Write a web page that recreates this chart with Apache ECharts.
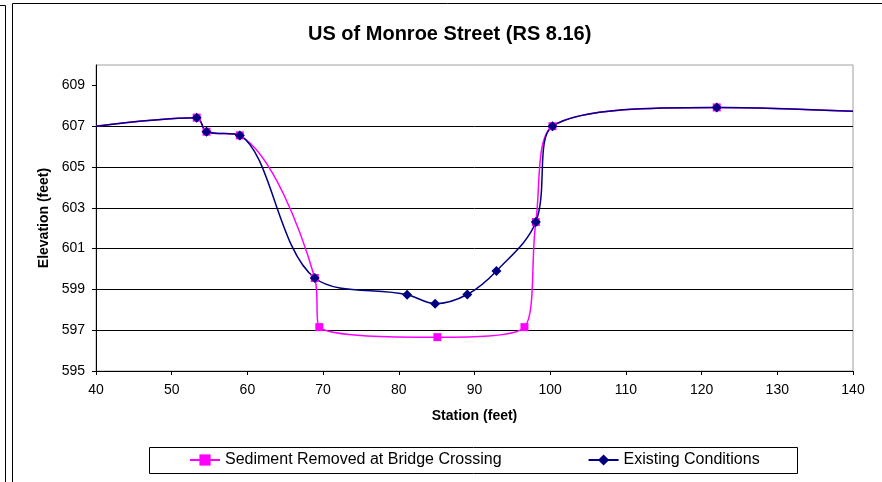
<!DOCTYPE html>
<html>
<head>
<meta charset="utf-8">
<script src="https://cdn.jsdelivr.net/npm/echarts@6/dist/echarts.min.js"></script>
<style>
    html, body { margin: 0; padding: 0; background: #ffffff; }
    #chart { width: 882px; height: 482px; }
</style>
</head>
<body>
<div id="chart"></div>
<script>
    // station (feet) / elevation (feet)
    var existingStation = [40, 53.3, 54.6, 59.0, 68.9, 81.1, 84.8, 89.05, 92.9, 98.1, 100.3, 122.0, 140];
    var existingElev = [607.0, 607.42, 606.73, 606.55, 599.56, 598.74, 598.30, 598.75, 599.90, 602.30, 607.0, 607.92, 607.73];

    var sedimentStation = [40, 53.3, 54.6, 59.0, 68.9, 69.5, 85.1, 96.6, 98.1, 100.3, 122.0, 140];
    var sedimentElev = [607.0, 607.42, 606.73, 606.55, 599.56, 597.15, 596.66, 597.15, 602.30, 607.0, 607.92, 607.73];

    var yTicks = [595, 597, 599, 601, 603, 605, 607, 609];

    var font = 'Liberation Sans, Arial, sans-serif';

    // first and last points are where the curve leaves the plot, no marker there
    function toPoints(xs, ys) {
        return xs.map(function (x, i) {
            var p = { value: [x, ys[i]] };
            if (i === 0 || i === xs.length - 1) p.symbol = 'none';
            return p;
        });
    }

    var option = {
        animation: false,
        backgroundColor: '#ffffff',
        title: {
            text: 'US of Monroe Street (RS 8.16)',
            left: 308,
            top: 24,
            padding: 0,
            textStyle: { fontFamily: font, fontSize: 20, fontWeight: 'bold', color: '#000' }
        },
        legend: {
            left: 189,
            top: 452,
            padding: 0,
            itemWidth: 30,
            itemHeight: 14,
            itemGap: 86,
            textStyle: { fontFamily: font, fontSize: 16, color: '#000' },
            data: ['Sediment Removed at Bridge Crossing', 'Existing Conditions']
        },
        grid: {
            left: 96,
            right: 29,
            top: 65,
            bottom: 111,
            show: true,
            borderColor: '#a0a0a0',
            borderWidth: 1,
            backgroundColor: '#ffffff'
        },
        xAxis: {
            type: 'value',
            min: 40,
            max: 140,
            interval: 10,
            name: 'Station (feet)',
            nameLocation: 'middle',
            nameGap: 38,
            nameTextStyle: { fontFamily: font, fontSize: 14, fontWeight: 'bold', color: '#000' },
            axisLine: { lineStyle: { color: '#000', width: 1 } },
            axisTick: { length: 4, lineStyle: { color: '#000' } },
            axisLabel: { fontFamily: font, fontSize: 14, color: '#000', margin: 12 },
            splitLine: { show: false }
        },
        yAxis: {
            type: 'value',
            min: 595,
            max: 610,
            interval: 2,
            name: 'Elevation (feet)',
            nameLocation: 'middle',
            nameGap: 41,
            nameTextStyle: { fontFamily: font, fontSize: 14, fontWeight: 'bold', color: '#000' },
            axisLine: { show: true, lineStyle: { color: '#000', width: 1 } },
            axisTick: { show: true, length: 4, customValues: yTicks, lineStyle: { color: '#000' } },
            axisLabel: { fontFamily: font, fontSize: 14, color: '#000', margin: 11, customValues: yTicks },
            splitLine: { show: true, showMaxLine: false, lineStyle: { color: '#000', width: 1 } }
        },
        graphic: [
            { type: 'line', shape: { x1: 0, y1: 5.5, x2: 5.5, y2: 5.5 }, style: { stroke: '#000', lineWidth: 1 } },
            { type: 'line', shape: { x1: 5.5, y1: 5.5, x2: 5.5, y2: 482 }, style: { stroke: '#000', lineWidth: 1 } },
            { type: 'line', shape: { x1: 12.5, y1: 3.5, x2: 882, y2: 3.5 }, style: { stroke: '#000', lineWidth: 1 } },
            { type: 'line', shape: { x1: 12.5, y1: 3.5, x2: 12.5, y2: 482 }, style: { stroke: '#000', lineWidth: 1 } },
            { type: 'rect', shape: { x: 149.5, y: 447.5, width: 648, height: 26 }, style: { stroke: '#000', fill: null, lineWidth: 1 } }
        ],
        series: [
            {
                name: 'Sediment Removed at Bridge Crossing',
                type: 'line',
                smooth: 0.35,
                symbol: 'rect',
                symbolSize: 8,
                color: '#ff00ff',
                lineStyle: { width: 1.5, color: '#ff00ff' },
                itemStyle: { color: '#ff00ff' },
                data: toPoints(sedimentStation, sedimentElev)
            },
            {
                name: 'Existing Conditions',
                type: 'line',
                smooth: 0.35,
                symbol: 'diamond',
                symbolSize: 10,
                color: '#000080',
                lineStyle: { width: 1.5, color: '#000080' },
                itemStyle: { color: '#000080' },
                data: toPoints(existingStation, existingElev)
            }
        ]
    };

    echarts.init(document.getElementById('chart'), null, { renderer: 'canvas' }).setOption(option);
</script>
</body>
</html>
